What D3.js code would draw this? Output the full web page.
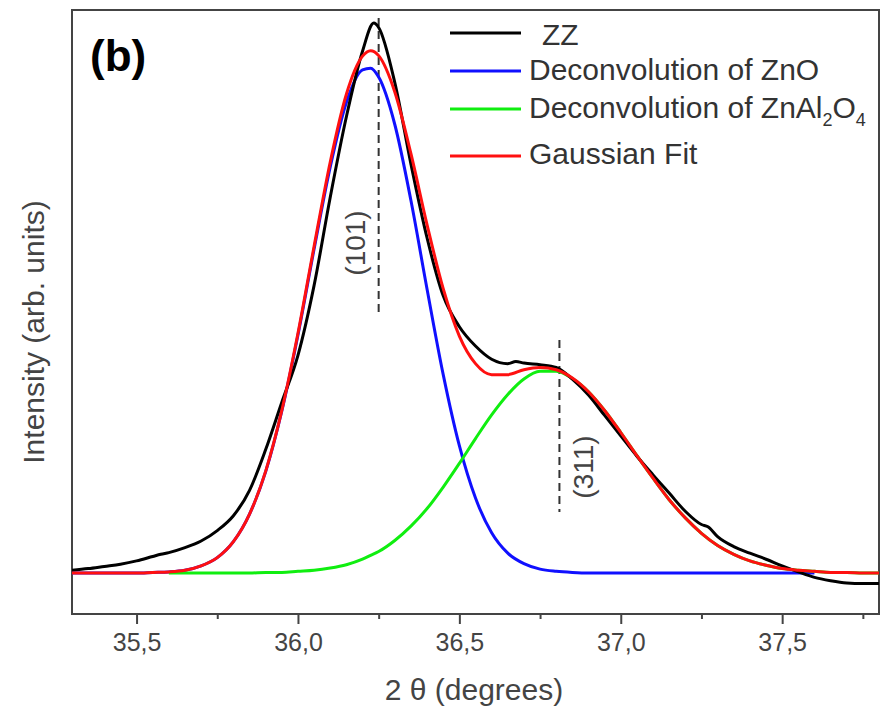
<!DOCTYPE html>
<html>
<head>
<meta charset="utf-8">
<script src="https://cdnjs.cloudflare.com/ajax/libs/d3/7.8.5/d3.min.js"></script>
<style>
  body { margin: 0; background: #fff; }
  svg { display: block; font-family: Arial, "Liberation Sans", sans-serif; }
</style>
</head>
<body>
<svg id="xrd" width="881" height="712"></svg>
<script>
// measured pattern (ZZ)
const zzTheta = [35.30, 35.35, 35.40, 35.45, 35.50, 35.55, 35.575, 35.60, 35.65, 35.70,
  35.75, 35.80, 35.85, 35.90, 35.95, 36.00, 36.05, 36.10, 36.15,
  36.20, 36.235, 36.25, 36.30, 36.35, 36.40, 36.45, 36.50, 36.55, 36.60,
  36.65, 36.675, 36.70, 36.75, 36.80, 36.85, 36.90, 36.95, 37.00, 37.05,
  37.10, 37.15, 37.20, 37.25, 37.27, 37.30, 37.35, 37.40, 37.45, 37.50,
  37.55, 37.60, 37.65, 37.70, 37.75, 37.80];
const zzIntensity = [5, 8, 12, 16, 22, 30, 34, 37, 46, 58,
  77, 104, 150, 224, 310, 395, 522, 682, 828,
  947, 998, 990, 890, 742, 608, 503, 447, 412, 388,
  380, 384, 381, 378, 373, 352, 323, 286, 249, 212,
  178, 145, 112, 88, 84, 66, 48, 36, 25, 13,
  2, -8, -14, -18, -19, -19];

// fitted curves share one theta grid
const fitTheta = [35.30, 35.35, 35.40, 35.45, 35.50, 35.55, 35.60, 35.65, 35.70, 35.75,
  35.80, 35.85, 35.90, 35.95, 36.00, 36.05, 36.10, 36.15, 36.20, 36.225,
  36.25, 36.30, 36.35, 36.40, 36.45, 36.50, 36.55, 36.60, 36.65, 36.70,
  36.75, 36.80, 36.85, 36.90, 36.95, 37.00, 37.05, 37.10, 37.15, 37.20,
  37.25, 37.30, 37.35, 37.40, 37.45, 37.50, 37.55, 37.60, 37.65, 37.70,
  37.75, 37.80];
const znoFit = [0, 0, 0, 0, 0, 1, 2, 5, 13, 28,
  57, 107, 184, 294, 432, 588, 737, 854, 913, 916,
  900, 814, 676, 515, 360, 231, 136, 73, 36, 17,
  7, 3, 1, 0, 0, 0, 0, 0, 0, 0,
  0, 0, 0, 0, 0, 0, 0, 0, null, null,
  null, null];
const znal2o4Fit = [null, null, null, null, null, null, 0, 0, 0, 0,
  0, 0, 1, 1, 3, 5, 9, 15, 25, 32,
  39, 59, 85, 117, 156, 199, 244, 287, 324, 352,
  366, 366, 353, 329, 295, 255, 213, 172, 133, 100,
  72, 50, 34, 22, 14, 8, 5, 3, 1, 1,
  0, 0];
const gaussFit = [0, 0, 0, 0, 0, 1, 2, 5, 13, 28,
  57, 107, 185, 295, 435, 593, 746, 869, 938, 948,
  939, 873, 761, 632, 516, 430, 380, 360, 360, 369,
  373, 369, 354, 329, 295, 255, 213, 172, 133, 100,
  72, 50, 34, 22, 14, 8, 5, 3, 1, 1,
  0, 0];

const majorTicks = [35.5, 36.0, 36.5, 37.0, 37.5];
const minorTicks = [35.75, 36.25, 36.75, 37.25, 37.75];
const peakLabels = ["(101)", "(311)"];
const peakTheta = [36.25, 36.81];

const legendNames = ["ZZ", "Deconvolution of ZnO", "Deconvolution of ZnAl2O4", "Gaussian Fit"];
const legendColors = ["#000000", "#1010ff", "#10ee10", "#ff1010"];

const svg = d3.select("#xrd");
const margin = {top: 10, right: 2, bottom: 98, left: 72};
const width = +svg.attr("width") - margin.left - margin.right;
const height = +svg.attr("height") - margin.top - margin.bottom;

const x = d3.scaleLinear().domain([35.3, 37.8]).range([0, width]);
const y = d3.scaleLinear().domain([-74.4, 1021.8]).range([height, 0]);

const g = svg.append("g")
    .attr("transform", "translate(" + margin.left + "," + margin.top + ")");

g.append("clipPath").attr("id", "clip")
  .append("rect").attr("width", width).attr("height", height);

// x axis: major + minor ticks, comma decimals
const fmt = d => d3.format(".1f")(d).replace(".", ",");
const xAxis = g.append("g")
    .attr("transform", "translate(0," + height + ")")
    .call(d3.axisBottom(x).tickValues(majorTicks).tickSize(10).tickPadding(9).tickFormat(fmt));
xAxis.select(".domain").remove();
xAxis.selectAll(".tick line").attr("stroke", "#444").attr("stroke-width", 2);
xAxis.selectAll("text").attr("font-size", 25).attr("fill", "#444")
    .attr("font-family", "Arial, 'Liberation Sans', sans-serif");

const xMinor = g.append("g")
    .attr("transform", "translate(0," + height + ")")
    .call(d3.axisBottom(x).tickValues(minorTicks).tickSize(5).tickFormat(""));
xMinor.select(".domain").remove();
xMinor.selectAll(".tick line").attr("stroke", "#444").attr("stroke-width", 2);

// frame
g.append("rect")
    .attr("width", width).attr("height", height)
    .attr("fill", "none").attr("stroke", "#444").attr("stroke-width", 2);

// peak markers
peakTheta.forEach((t, i) => {
  const top = i == 0 ? 8 : 330;
  const bottom = i == 0 ? 303 : 502;
  g.append("line")
      .attr("x1", x(t)).attr("x2", x(t))
      .attr("y1", top).attr("y2", bottom)
      .attr("stroke", "#333").attr("stroke-width", 2)
      .attr("stroke-dasharray", "8,5");
  const lx = i == 0 ? x(t) - 14 : x(t) + 34;
  const ly = i == 0 ? 233 : 457;
  g.append("text")
      .attr("transform", "translate(" + lx + "," + ly + ") rotate(-90)")
      .attr("text-anchor", "middle")
      .attr("font-size", 28).attr("fill", "#444")
      .text(peakLabels[i]);
});

// curves
const plot = g.append("g").attr("clip-path", "url(#clip)");
function drawCurve(thetas, values, color) {
  const pts = thetas.map((t, i) => [t, values[i]]);
  plot.append("path")
      .datum(pts)
      .attr("fill", "none")
      .attr("stroke", color)
      .attr("stroke-width", 3)
      .attr("stroke-linejoin", "round")
      .attr("d", d3.line()
          .defined(d => d[1] != null)
          .x(d => x(d[0])).y(d => y(d[1]))
          .curve(d3.curveMonotoneX));
}
drawCurve(fitTheta, znoFit, legendColors[1]);
drawCurve(fitTheta, znal2o4Fit, legendColors[2]);
drawCurve(zzTheta, zzIntensity, legendColors[0]);
drawCurve(fitTheta, gaussFit, legendColors[3]);

// panel letter
g.append("text")
    .attr("x", 18).attr("y", 61)
    .attr("font-size", 44).attr("font-weight", "bold").attr("fill", "#000")
    .text("(b)");

// legend
const legendY = [23, 61, 99, 146];
const legendBase = [35, 70, 108, 154];
const legend = g.append("g").attr("transform", "translate(378,0)");
legendNames.forEach((name, i) => {
  legend.append("line")
      .attr("x1", 0).attr("x2", 71)
      .attr("y1", legendY[i]).attr("y2", legendY[i])
      .attr("stroke", legendColors[i]).attr("stroke-width", 3);
  const t = legend.append("text")
      .attr("x", i == 0 ? 92 : 79).attr("y", legendBase[i])
      .attr("font-size", 30).attr("fill", "#333");
  if (i == 2) {
    t.append("tspan").text("Deconvolution of ZnAl");
    t.append("tspan").attr("font-size", 18).attr("dy", 8).text("2");
    t.append("tspan").attr("dy", -8).text("O");
    t.append("tspan").attr("font-size", 18).attr("dy", 8).text("4");
  } else {
    t.text(name);
  }
});

// axis titles
svg.append("text")
    .attr("x", 474).attr("y", 700)
    .attr("text-anchor", "middle")
    .attr("font-size", 30).attr("fill", "#444")
    .text("2 θ (degrees)");

svg.append("text")
    .attr("transform", "translate(44,332) rotate(-90)")
    .attr("text-anchor", "middle")
    .attr("font-size", 30).attr("fill", "#444")
    .text("Intensity (arb. units)");
</script>
</body>
</html>
